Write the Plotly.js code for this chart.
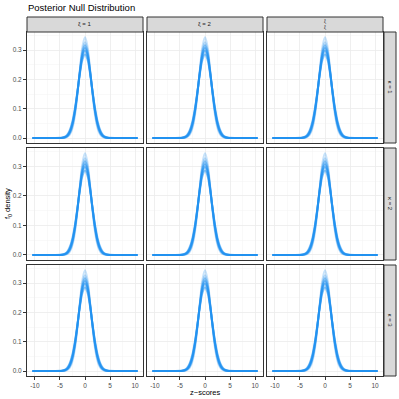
<!DOCTYPE html>
<html>
<head>
<meta charset="utf-8">
<script src="https://cdn.plot.ly/plotly-3.0.1.min.js"></script>
<style>html,body{margin:0;padding:0;background:#fff}</style>
</head>
<body>
<div id="vis" style="width:399px;height:399px"></div>
<script>
// z grid the densities were read at
const zGrid = [-10.5, -6, -5, -4.5, -4, -3.5, -3, -2.5, -2, -1.5, -1, -0.5, 0, 0.5, 1, 1.5, 2, 2.5, 3, 3.5, 4, 4.5, 5, 6, 10.5]

// posterior draws of the null density (same look in every panel)
const draw1 = [0, 0, 0, 0.0002, 0.0009, 0.0036, 0.0121, 0.0337, 0.0778, 0.1491, 0.2372, 0.3135, 0.344, 0.3135, 0.2372, 0.1491, 0.0778, 0.0337, 0.0121, 0.0036, 0.0009, 0.0002, 0, 0, 0]
const draw2 = [0, 0, 0.0001, 0.0004, 0.0015, 0.0053, 0.0159, 0.0401, 0.0853, 0.1536, 0.2337, 0.3006, 0.327, 0.3006, 0.2337, 0.1536, 0.0853, 0.0401, 0.0159, 0.0053, 0.0015, 0.0004, 0.0001, 0, 0]
const draw3 = [0, 0, 0.0001, 0.0005, 0.0021, 0.0067, 0.0186, 0.0443, 0.0899, 0.1561, 0.2313, 0.2930, 0.317, 0.2930, 0.2313, 0.1561, 0.0899, 0.0443, 0.0186, 0.0067, 0.0021, 0.0005, 0.0001, 0, 0]
const draw4 = [0, 0, 0.0002, 0.0008, 0.0027, 0.0082, 0.0214, 0.0483, 0.0940, 0.1578, 0.2284, 0.2851, 0.307, 0.2851, 0.2284, 0.1578, 0.0940, 0.0483, 0.0214, 0.0082, 0.0027, 0.0008, 0.0002, 0, 0]
const draw5 = [0, 0, 0.0003, 0.0011, 0.0035, 0.0098, 0.0243, 0.0523, 0.0978, 0.1593, 0.2256, 0.2780, 0.298, 0.2780, 0.2256, 0.1593, 0.0978, 0.0523, 0.0243, 0.0098, 0.0035, 0.0011, 0.0003, 0, 0]
const draw6 = [0, 0, 0.0005, 0.0016, 0.0048, 0.0125, 0.0287, 0.0579, 0.1027, 0.1605, 0.2208, 0.2674, 0.285, 0.2674, 0.2208, 0.1605, 0.1027, 0.0579, 0.0287, 0.0125, 0.0048, 0.0016, 0.0005, 0, 0]
const draws = [draw1, draw2, draw3, draw4, draw5, draw6]
// the high, thin draws are fainter than the bulk
const drawAlpha = [0.25, 0.3, 0.5, 0.6, 0.6, 0.55]

const xiLabels = ['ξ = 1', 'ξ = 2', 'ξ<br>ξ']
const kappaLabels = ['κ = 1', 'κ = 2', 'κ = 3']
const xTicks = [-10, -5, 0, 5, 10]
const yTicks = [0, 0.1, 0.2, 0.3]

const W = 399, H = 399
const cols = [[27, 143], [147, 263], [267, 383]]
const rows = [[32, 143], [148, 260], [265, 376]]
const px = v => v / W
const py = v => 1 - v / H

const font = 'Liberation Sans, Arial, sans-serif'
const data = []
const layout = {
  width: W, height: H,
  margin: {l: 0, r: 0, t: 0, b: 0},
  paper_bgcolor: '#fff', plot_bgcolor: '#fff',
  showlegend: false,
  font: {family: font, color: '#4D4D4D'},
  shapes: [], annotations: []
}

for (let r = 0; r < 3; r++) {
  for (let c = 0; c < 3; c++) {
    const n = r * 3 + c + 1
    const sfx = n === 1 ? '' : n
    draws.forEach((d, i) => {
      data.push({
        x: zGrid, y: d, type: 'scatter', mode: 'lines',
        xaxis: 'x' + sfx, yaxis: 'y' + sfx,
        line: {color: 'rgb(30,144,240)', width: 2, shape: 'spline'},
        opacity: drawAlpha[i], hoverinfo: 'skip'
      })
    })
    layout['xaxis' + sfx] = {
      domain: [px(cols[c][0]), px(cols[c][1])],
      anchor: 'y' + sfx,
      range: [-11.58, 11.58],
      tickvals: xTicks, ticktext: xTicks.map(String),
      showticklabels: r === 2, ticks: r === 2 ? 'outside' : '',
      ticklen: 3, tickwidth: 1, tickcolor: '#333',
      tickfont: {size: 6.5, color: '#4D4D4D'},
      showgrid: true, gridcolor: '#EBEBEB', gridwidth: 0.8,
      minor: {tickvals: [-7.5, -2.5, 2.5, 7.5], showgrid: true, gridcolor: '#F3F3F3', gridwidth: 0.5, ticks: ''},
      zeroline: false, showline: true, mirror: true, linecolor: '#333', linewidth: 1
    }
    layout['yaxis' + sfx] = {
      domain: [py(rows[r][1]), py(rows[r][0])],
      anchor: 'x' + sfx,
      range: [-0.017, 0.362],
      tickvals: yTicks, ticktext: ['0.0', '0.1', '0.2', '0.3'],
      showticklabels: c === 0, ticks: c === 0 ? 'outside' : '',
      ticklen: 3, tickwidth: 1, tickcolor: '#333',
      tickfont: {size: 6.5, color: '#4D4D4D'},
      showgrid: true, gridcolor: '#EBEBEB', gridwidth: 0.8,
      minor: {tickvals: [0.05, 0.15, 0.25, 0.35], showgrid: true, gridcolor: '#F3F3F3', gridwidth: 0.5, ticks: ''},
      zeroline: false, showline: true, mirror: true, linecolor: '#333', linewidth: 1
    }
  }
}

// top strips
cols.forEach((cx, c) => {
  layout.shapes.push({type: 'rect', xref: 'paper', yref: 'paper',
    x0: px(cx[0]), x1: px(cx[1]), y0: py(32), y1: py(17),
    fillcolor: '#D9D9D9', line: {color: '#333', width: 1}})
  layout.annotations.push({xref: 'paper', yref: 'paper', x: px((cx[0] + cx[1]) / 2), y: py(24.5),
    text: xiLabels[c], showarrow: false, xanchor: 'center', yanchor: 'middle',
    font: {size: c === 2 ? 4.5 : 6, color: '#1A1A1A'}})
})
// right strips
rows.forEach((ry, r) => {
  layout.shapes.push({type: 'rect', xref: 'paper', yref: 'paper',
    x0: px(384), x1: px(396), y0: py(ry[1]), y1: py(ry[0]),
    fillcolor: '#D9D9D9', line: {color: '#333', width: 1}})
  layout.annotations.push({xref: 'paper', yref: 'paper', x: px(390), y: py((ry[0] + ry[1]) / 2),
    text: kappaLabels[r], showarrow: false, textangle: 90, xanchor: 'center', yanchor: 'middle',
    font: {size: 6, color: '#1A1A1A'}})
})

layout.annotations.push(
  {xref: 'paper', yref: 'paper', x: px(26), y: py(7), text: 'Posterior Null Distribution',
    showarrow: false, xanchor: 'left', yanchor: 'middle', font: {size: 9.5, color: '#000'}},
  {xref: 'paper', yref: 'paper', x: px(205), y: py(392), text: 'z−scores',
    showarrow: false, xanchor: 'center', yanchor: 'middle', font: {size: 7.5, color: '#000'}},
  {xref: 'paper', yref: 'paper', x: px(8), y: py(204), text: 'f<sub>0</sub> density', textangle: -90,
    showarrow: false, xanchor: 'center', yanchor: 'middle', font: {size: 7.5, color: '#000'}}
)

Plotly.newPlot('vis', data, layout, {staticPlot: true, displayModeBar: false})
</script>
</body>
</html>
